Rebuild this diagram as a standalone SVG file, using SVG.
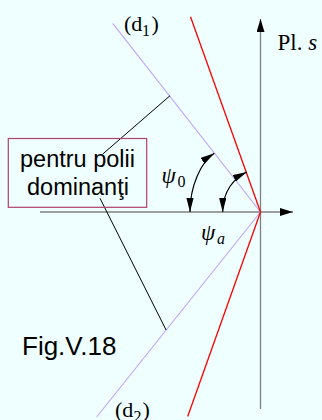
<svg xmlns="http://www.w3.org/2000/svg" width="322" height="420" viewBox="0 0 322 420">
<style>
.axis{stroke:#808080;stroke-width:1.3;fill:none}
.lav{stroke:#c4a6ff;stroke-width:1.2;fill:none}
.red{stroke:#ff0000;stroke-width:1.3;fill:none}
.lead{stroke:#000;stroke-width:1;fill:none}
.arc{stroke:#000;stroke-width:1.2;fill:none;marker-start:url(#ah);marker-end:url(#ah)}
.serif{font-family:"Liberation Serif","Times New Roman",serif;fill:#000}
.sans{font-family:"Liberation Sans",Arial,sans-serif;fill:#000}
</style>
<defs>
<marker id="axh" markerUnits="userSpaceOnUse" markerWidth="14" markerHeight="9" refX="13" refY="4" orient="auto">
<path d="M0,0 L13,4 L0,8 z" fill="#000"/>
</marker>
<marker id="ah" markerUnits="userSpaceOnUse" markerWidth="15" markerHeight="8" refX="14" refY="3.6" orient="auto-start-reverse">
<path d="M0,0 L14,3.6 L0,7.2 z" fill="#000"/>
</marker>
</defs>
<rect x="0" y="0" width="322" height="420" fill="#efffff"/>
<g id="axes">
<line class="axis" x1="40" y1="212" x2="293" y2="212" marker-end="url(#axh)"/>
<line class="axis" x1="260.5" y1="409" x2="260.5" y2="19" marker-end="url(#axh)"/>
</g>
<g id="lines">
<line class="lav" x1="112.7" y1="23.3" x2="260.5" y2="212"/>
<line class="lav" x1="96.7" y1="417" x2="260.5" y2="212"/>
<line class="red" x1="190.5" y1="16.7" x2="260.5" y2="212"/>
<line class="red" x1="187.7" y1="416.5" x2="260.5" y2="212"/>
</g>
<g id="arcs">
<path class="arc" d="M190,212 C190,186 200.9,162.1 214.3,153.3"/>
<path class="arc" d="M222.7,212 C222.7,191 234,178.3 246.8,172"/>
</g>
<g id="connectors">
<line class="lead" x1="170" y1="95.7" x2="102.8" y2="154"/>
<line class="lead" x1="100" y1="198.3" x2="166.1" y2="330"/>
</g>
<g id="note">
<rect x="8.3" y="138.5" width="138.4" height="68.8" fill="none" stroke="#b0406e" stroke-width="1.2"/>
<text class="sans" font-size="23.5" text-anchor="middle" x="77.5" y="166.5">pentru polii</text>
<text class="sans" font-size="23.5" text-anchor="middle" x="78" y="194.5">dominanţi</text>
</g>
<g id="labels">
<text class="serif" font-size="22" y="30.5"><tspan x="124">(d</tspan><tspan x="142" y="36" font-size="16">1</tspan><tspan x="151.5" y="30.5">)</tspan></text>
<text class="serif" font-size="22" y="416.5"><tspan x="115">(d</tspan><tspan x="133.5" y="421.5" font-size="16">2</tspan><tspan x="142.5" y="416.5">)</tspan></text>
<text class="serif" font-size="23" x="277.5" y="50">Pl. <tspan font-style="italic">s</tspan></text>
<text class="serif" font-size="23" y="182.5"><tspan x="161.5" font-style="italic">ψ</tspan><tspan x="177.5" y="187" font-size="16">0</tspan></text>
<text class="serif" font-size="23" y="239.5"><tspan x="201" font-style="italic">ψ</tspan><tspan x="217" y="243.5" font-size="16" font-style="italic">a</tspan></text>
<text class="sans" font-size="26" x="22" y="355">Fig.V.18</text>
</g>
</svg>
